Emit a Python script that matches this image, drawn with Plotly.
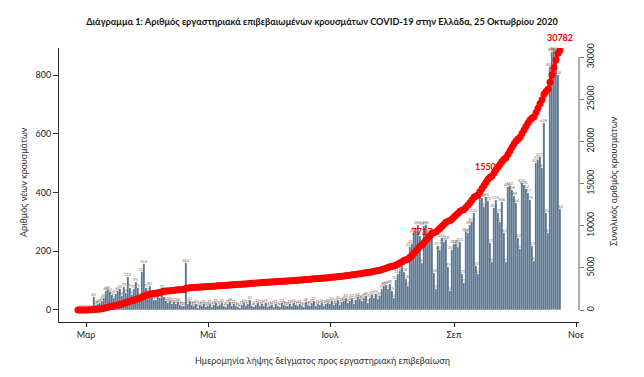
import itertools
import pandas as pd
import plotly.graph_objects as go

# ---------------- data ----------------
start_date = "2020-02-26"

feb = [1, 2, 3, 2]
mar = [3, 2, 3, 2, 45, 18, 20, 25, 30, 40, 66, 69, 62, 50, 42, 55, 64, 73, 48, 79,
       58, 112, 75, 50, 70, 95, 75, 45, 129, 156, 75]
apr = [60, 80, 45, 35, 35, 55, 40, 70, 45, 30, 25, 30, 20, 27, 20, 28, 18, 12, 14, 160,
       22, 30, 18, 12, 20, 8, 16, 12, 20, 10]
may = [15, 21, 11, 18, 25, 13, 17, 23, 12, 9, 19, 28, 15, 21, 13, 11, 8, 18, 23, 15,
       21, 33, 13, 9, 17, 23, 15, 19, 13, 25, 11]
jun = [13, 17, 11, 21, 15, 9, 23, 18, 13, 15, 19, 12, 25, 17, 13, 21, 15, 11, 28, 18,
       13, 23, 31, 15, 21, 17, 25, 13, 19, 23]
jul = [22, 30, 18, 25, 34, 16, 28, 32, 40, 24, 30, 42, 22, 35, 44, 36, 30, 40, 48, 25,
       40, 50, 42, 55, 38, 48, 70, 80, 86, 70, 88]
aug = [65, 40, 102, 123, 131, 151, 128, 105, 82, 216, 226, 262, 268, 288, 253, 160,
       287, 290, 258, 260, 250, 126, 72, 217, 203, 245, 230, 238, 145, 64, 203]
sep = [224, 226, 213, 231, 121, 93, 266, 263, 288, 300, 330, 150, 124, 386, 380, 350,
       385, 370, 227, 165, 346, 375, 329, 301, 366, 262, 164, 420, 423, 408]
oct_ = [388, 364, 244, 207, 431, 426, 412, 397, 376, 217, 166, 500, 510, 521, 485, 638,
        330, 263, 829, 880, 883, 880, 800, 344]

daily_new = feb + mar + apr + may + jun + jul + aug + sep + oct_
dates = pd.date_range(start_date, periods=len(daily_new), freq="D")
cumulative = list(itertools.accumulate(daily_new))

label_dates = ["2020-08-16", "2020-09-18", "2020-10-24"]

tick_dates = ["2020-03-01", "2020-05-01", "2020-07-01", "2020-09-01", "2020-11-01"]
tick_text = ["Μαρ", "Μαΐ", "Ιουλ", "Σεπ", "Νοε"]
left_ticks = [0, 200, 400, 600, 800]
right_ticks = [0, 5000, 10000, 15000, 20000, 25000, 30000]

title_text = ("Διάγραμμα 1: Αριθμός εργαστηριακά επιβεβαιωμένων κρουσμάτων "
              "COVID-19 στην Ελλάδα, 25 Οκτωβρίου 2020")
x_title = "Ημερομηνία λήψης δείγματος προς εργαστηριακή επιβεβαίωση"
y_title = "Αριθμός νέων κρουσμάτων"
y2_title = "Συνολικός αριθμός κρουσμάτων"

# ---------------- figure ----------------
FONT = "Lato, Open Sans, sans-serif"
BAR = "#4a6a89"
RED = "#ff0000"
W, H = 644, 377
PAGE_OFFSET = 8  # default body margin of the html page

lookup = dict(zip(dates.strftime("%Y-%m-%d"), cumulative))
label_vals = [lookup[d] for d in label_dates]

fig = go.Figure()
fig.add_trace(go.Bar(
    x=dates, y=daily_new, marker=dict(color=BAR, line=dict(color="white", width=0.25)),
    text=[str(v) for v in daily_new], textposition="outside", constraintext="none",
    textfont=dict(size=4, color="#7d6e62", family=FONT), cliponaxis=False,
    showlegend=False,
))
fig.add_trace(go.Scatter(
    x=label_dates, y=label_vals, yaxis="y2", mode="markers+text", cliponaxis=False,
    marker=dict(size=10, color="rgba(0,0,0,0)"),
    text=["<b>%d</b>" % v for v in label_vals], textposition="top center",
    textfont=dict(size=9, color=RED, family=FONT), showlegend=False,
))
fig.add_trace(go.Scatter(
    x=dates, y=cumulative, yaxis="y2", mode="lines+markers",
    line=dict(color=RED, width=3), marker=dict(color=RED, size=7),
    showlegend=False,
))

fig.update_layout(
    width=W, height=H,
    margin=dict(l=59 - PAGE_OFFSET, r=W - 579 + PAGE_OFFSET, t=48 - PAGE_OFFSET,
                b=H - 322 + PAGE_OFFSET, autoexpand=False),
    paper_bgcolor="white", plot_bgcolor="white",
    font=dict(family=FONT, size=9, color="#333"),
    bargap=0,
    title=dict(text="<b>" + title_text + "</b>", x=(322 - PAGE_OFFSET) / W, xref="container",
               y=1 - (22 - PAGE_OFFSET) / H, yref="container", yanchor="middle",
               xanchor="center", automargin=False,
               font=dict(size=9.2, color="#111", family=FONT)),
    xaxis=dict(type="date", range=["2020-02-16 12:00", "2020-11-02 12:00"],
               tickvals=tick_dates, ticktext=tick_text, ticks="outside", ticklen=4,
               tickcolor="#222", showline=True, linecolor="#222", linewidth=1,
               automargin=False, showgrid=False, zeroline=False,
               tickfont=dict(size=9, color="#222")),
    yaxis=dict(range=[-41, 892], tickvals=left_ticks, ticks="outside", ticklen=5,
               tickcolor="#333", showline=True, linecolor="#333", linewidth=1,
               automargin=False, showgrid=False, zeroline=False,
               tickfont=dict(size=9, color="#222")),
    yaxis2=dict(range=[-1423, 31067], overlaying="y", side="right",
                tickvals=right_ticks, tickformat="d", ticks="outside", ticklen=4,
                tickcolor="#777", tickangle=-90, showline=False, showgrid=False,
                zeroline=False, automargin=False,
                tickfont=dict(size=8.5, color="#222")),
    shapes=[dict(type="line", xref="paper", yref="y2", x0=1, x1=1, y0=0, y1=30000,
                 line=dict(color="#777", width=1.2))],
    annotations=[
        dict(text=x_title, xref="paper", yref="paper", x=(322 - 59) / 520, y=-38 / 274,
             showarrow=False, font=dict(size=9, color="#333"), yanchor="middle"),
        dict(text=y_title, xref="paper", yref="paper", x=(23 - 59) / 520, y=(322 - 182) / 274,
             showarrow=False, textangle=-90, font=dict(size=9, color="#333"),
             xanchor="center", yanchor="middle"),
        dict(text=y2_title, xref="paper", yref="paper", x=(613 - 59) / 520, y=(322 - 182) / 274,
             showarrow=False, textangle=-90, font=dict(size=9, color="#333"),
             xanchor="center", yanchor="middle"),
    ],
)

fig.write_html("out.html")
